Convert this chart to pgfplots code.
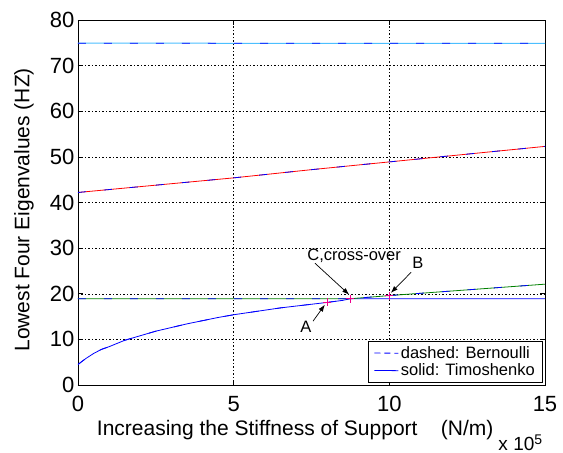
\documentclass[border=0pt]{standalone}
\usepackage{pgfplots}
\pgfplotsset{compat=1.18}
\usepackage{fontspec}
\setmainfont{Liberation Sans}
\usetikzlibrary{arrows.meta}
\definecolor{tgreen}{rgb}{0,0.5,0}
\definecolor{tcyan}{rgb}{0.3,0.75,1}
\definecolor{bblue}{rgb}{0,0,1}
\begin{document}
\begin{tikzpicture}
\path[use as bounding box] (-78pt,-68pt) rectangle (485pt,385pt);
\begin{axis}[
 at={(0pt,0pt)}, anchor=south west,
 scale only axis, width=467pt, height=365pt,
 xmin=0, xmax=15, ymin=0, ymax=80,
 xtick={0,5,10,15}, ytick={0,10,...,80},
 grid=major, major grid style={black, line width=0.5pt, dash pattern=on 1.5pt off 2pt},
 tick align=inside, major tick length=5pt,
 xtick pos=both, ytick pos=both,
 axis line style={black, line width=0.9pt},
 tick style={black, line width=0.6pt},
 ticklabel style={font=\fontsize{22}{24}\selectfont},
 xticklabel style={yshift=-8pt},
 /pgf/number format/assume math mode=true,
 xlabel={Increasing the Stiffness of Support\ \ \ \ (N/m)},
 ylabel={Lowest Four Eigenvalues (HZ)},
 label style={font=\fontsize{21}{23}\selectfont},
 x label style={at={(axis description cs:0.465,-0.123)}, anchor=center},
 y label style={at={(axis description cs:-0.116,0.48)}, anchor=center},
 legend image code/.code={\draw[#1] (0pt,0.2pt) -- (8pt,0.1pt) -- (16pt,0.1pt) -- (24pt,0pt);},
 legend style={at={(axis description cs:0.996,0.006)}, anchor=south east,
   font=\fontsize{16.5}{18}\selectfont, line width=0.8pt,
   inner xsep=6pt, inner ysep=3pt, row sep=0pt},
 legend cell align=left,
 clip=false,
]
% lowest (Timoshenko solid blue)
\addplot[bblue, line width=0.8pt, forget plot] coordinates {
(0,4.5) (0.25,5.8) (0.5,6.9) (0.75,7.8) (1,8.4) (1.25,9.1) (1.5,9.8) (1.75,10.3) (2,10.8)
(2.5,11.8) (3,12.6) (3.5,13.4) (4,14.1) (4.5,14.8) (5,15.4) (5.5,15.9) (6,16.4) (6.5,16.9)
(7,17.3) (7.5,17.7) (8,18.1) (8.5,18.55) (8.75,18.9) (10,18.9) (12,18.9) (15,18.9)};
% second (green)
\addplot[tgreen, line width=0.8pt, forget plot] coordinates {
(0,18.9) (5,18.9) (8.75,18.9) (9,19.05) (10,19.6) (11,20.1) (12,20.6) (13,21.1) (14,21.6) (15,22.1)};
% third (red)
\addplot[red, line width=0.8pt, forget plot] coordinates {
(0,42.2) (2.5,43.8) (5,45.4) (7.5,47.2) (10,48.9) (12.5,50.6) (15,52.3)};
% fourth
\addplot[tcyan, line width=1pt, forget plot] coordinates {(0,74.92) (3,74.91) (6,74.9) (9,74.9) (12,74.9) (15,74.9)};
% Bernoulli dashed overlays
\addplot[bblue, line width=0.8pt, dash pattern=on 8pt off 18pt, forget plot] coordinates {
(0,4.5) (0.25,5.8) (0.5,6.9) (0.75,7.8) (1,8.4) (1.25,9.1) (1.5,9.8) (1.75,10.3) (2,10.8)
(2.5,11.8) (3,12.6) (3.5,13.4) (4,14.1) (4.5,14.8) (5,15.4) (5.5,15.9) (6,16.4) (6.5,16.9)
(7,17.3) (7.5,17.7) (8,18.1) (8.5,18.55) (8.75,18.9)};
\addplot[bblue, line width=0.8pt, dash pattern=on 8pt off 18pt, forget plot] coordinates {
(0,18.9) (5,18.9) (8.75,18.9) (9,19.05) (10,19.6) (11,20.1) (12,20.6) (13,21.1) (14,21.6) (15,22.1)};
\addplot[bblue, line width=0.8pt, dash pattern=on 8pt off 18pt, forget plot] coordinates {
(0,42.2) (2.5,43.8) (5,45.4) (7.5,47.2) (10,48.9) (12.5,50.6) (15,52.3)};
\addplot[bblue, line width=0.8pt, dash pattern=on 8pt off 18pt, forget plot] coordinates {(0,74.92) (3,74.91) (6,74.9) (9,74.9) (12,74.9) (15,74.9)};
% markers
\addplot[only marks, mark=+, mark size=4pt, magenta, line width=0.8pt, forget plot]
 coordinates {(8,18.1) (8.75,18.9) (10,19.6)};
% legend
\addlegendimage{draw=bblue, color=bblue, line width=0.8pt, dash pattern=on 6pt off 4pt}
\addlegendentry{dashed: Bernoulli}
\addlegendimage{draw=bblue, color=bblue, line width=0.8pt}
\addlegendentry{solid: Timoshenko}
% annotations
\node[font=\fontsize{16.5}{18}\selectfont] at (axis cs:7.32,12.7) {A};
\draw[black, line width=0.7pt, -{Latex[length=7pt,width=5pt]}] (axis cs:7.55,14.0) -- (axis cs:7.93,17.6);
\node[font=\fontsize{16.5}{18}\selectfont] at (axis cs:8.87,28.4) {C,cross-over};
\draw[black, line width=0.7pt, -{Latex[length=7pt,width=5pt]}] (axis cs:7.61,26.7) -- (axis cs:8.71,19.8);
\node[font=\fontsize{16.5}{18}\selectfont] at (axis cs:10.92,26.7) {B};
\draw[black, line width=0.7pt, -{Latex[length=7pt,width=5pt]}] (axis cs:10.70,24.7) -- (axis cs:10.05,20.2);
\node[font=\fontsize{19}{21}\selectfont, anchor=west, inner sep=0pt] at (axis description cs:0.9,-0.159) {x 10\raisebox{0.55ex}{\fontsize{14}{14}\selectfont 5}};
\end{axis}
\end{tikzpicture}
\end{document}
